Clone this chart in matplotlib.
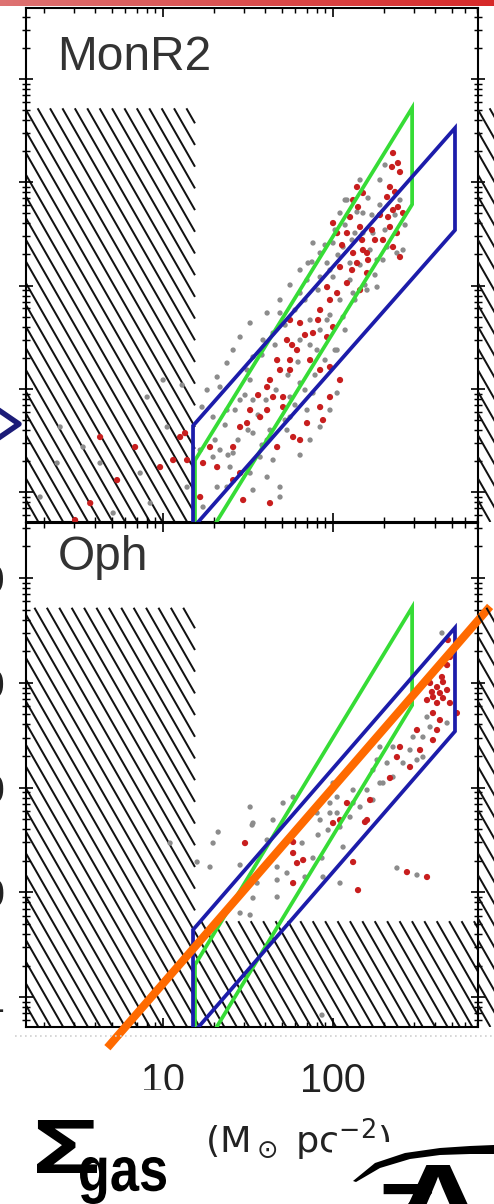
import numpy as np
import matplotlib
matplotlib.use("Agg")
import matplotlib.pyplot as plt
from matplotlib.collections import LineCollection
from matplotlib.patches import Rectangle, Polygon, PathPatch
from matplotlib.lines import Line2D
from matplotlib.ticker import LogLocator, NullFormatter
from matplotlib.textpath import TextPath
from matplotlib.font_manager import FontProperties
from matplotlib.transforms import Affine2D

plt.rcParams['font.family'] = ['Liberation Sans', 'DejaVu Sans']
plt.rcParams['mathtext.fontset'] = 'dejavusans'

DPI = 150
W, H = 494, 1204

# ---- axis ranges -------------------------------------------------------
gas_lim = (1.56, 713.0)                 # Sigma_gas (Msun pc^-2)
yso_lim_monr2 = (0.513, 48700.0)        # Sigma_YSO (pc^-2)
yso_lim_oph = (0.518, 33500.0)
gas_ticks = [10, 100]
gas_ticklabels = ["10", "100"]
yso_ticks = [1, 10, 100, 1000, 10000]
yso_ticklabels = ["1", "10", "100", "1000", "10000"]

# ---- completeness limits (hatched) ------------------------------------
gas_complete = 15.4
yso_complete_top = 5200.0
oph_yso_floor = 5.3

# ---- power-law fits: index, gas range, upper/lower Sigma_YSO at max gas
monr2_fit = dict(index=2.67, gas=(15.4, 292.0), upper=5240.0, lower=610.0)
oph_fit = dict(index=1.87, gas=(15.0, 522.0), upper=3350.0, lower=344.0)

# ---- trend line overlaid on the Oph panel ------------------------------
trend_gas = np.array([4.7, 840.0])
trend_norm, trend_index = 100.0, 1.87

# ---- YSO points: log10 Sigma_gas, log10 Sigma_YSO ----------------------
monr2_red_lg = [2.353, 2.347, 2.382, 2.394, 2.335, 2.365, 2.318, 2.382, 2.353, 2.324, 2.412,
                2.141, 2.176, 2.118, 2.147, 2.100, 2.159, 2.000, 2.024, 2.082, 2.176, 2.200,
                2.118, 2.041, 2.141, 2.200, 2.082, 1.965, 2.024, 2.159, 2.335, 2.376, 2.353,
                2.294, 2.394,
                1.747, 1.806, 1.924, 1.882, 1.965, 2.000, 1.729, 1.788, 1.747, 1.671, 1.612,
                1.647, 1.612, 1.706, 1.571, 1.494, 1.706, 1.747, 1.865, 1.924, 1.982, 2.041,
                1.982, 1.924, 1.941, 1.847, 1.806, 1.765, 1.671, 1.453, 1.412, 1.453, 1.318,
                1.235, 1.412, 1.218, 1.471, 1.629, 1.276,
                0.629, 0.835, 0.729, 0.571, 0.482, 0.982, 1.100, 1.059, 1.141, 1.129,
                2.247, 2.206, 2.112, 2.053, 1.982, 1.912, 1.835, 1.759, 1.688, 1.629, 1.559,
                1.512, 2.276, 2.229, 2.171]
monr2_red_ly = [3.283, 3.148, 3.186, 3.099, 2.954, 2.906, 2.857, 2.760, 2.731, 2.663, 2.702,
                2.954, 2.896, 2.828, 2.760, 2.663, 2.567, 2.605, 2.508, 2.508, 2.344, 2.315,
                2.315, 2.179, 2.218, 2.121, 2.024, 1.985, 1.927, 1.956, 2.567, 2.508, 2.373,
                2.441, 2.276,
                1.666, 1.637, 1.763, 1.540, 1.501, 1.598, 1.472, 1.375, 1.278, 1.278, 1.017,
                0.920, 0.794, 0.823, 0.726, 0.668, 0.920, 1.182, 1.278, 1.182, 1.211, 1.085,
                0.920, 0.823, 0.697, 0.668, 0.504, 0.533, 0.436, 0.630, 0.436, 0.184, 0.242,
                0.281, 0.116, -0.048, -0.077, -0.107, 0.436,
                0.533, 0.436, 0.116, -0.107, -0.271, 0.242, 0.533, 0.310, 0.310, 0.571,
                2.441, 2.247, 2.150, 2.392, 1.860, 1.666, 1.521, 1.424, 1.182, 1.085, 0.939,
                0.794, 2.683, 2.538, 2.441]
monr2_gray_lg = [2.159, 2.082, 2.176, 2.041, 2.129, 2.000, 1.882, 1.924, 1.853, 1.965, 2.059,
                 2.100, 2.176, 2.235, 2.259, 2.294, 2.200, 2.259, 2.118, 2.000, 1.924, 1.847,
                 1.806, 2.318, 2.376, 2.394, 2.412,
                 1.612, 1.688, 1.512, 1.453, 1.412, 1.376, 1.318, 1.259, 1.229, 1.335, 1.494,
                 1.529, 1.588, 1.647, 1.806, 1.865, 1.965, 2.059, 2.024, 1.906, 1.806, 1.882,
                 1.747, 1.529, 1.453, 1.376, 1.294, 1.529, 1.612, 1.729, 1.647, 1.571, 1.412,
                 1.335, 1.294, 1.218, 1.394, 1.512, 1.612, 1.688, 1.529, 1.376, 1.318, 1.235,
                 1.688, 1.924, 1.982, 2.024, 1.847, 1.747,
                 0.906, 1.000, 1.112, 0.376, 0.276, 0.865, 0.629, 1.024, 0.924, 0.394, 1.141,
                 0.706, 0.529,
                 2.071, 2.112, 2.029, 1.982, 1.912, 1.835, 1.776, 1.718, 1.659, 1.582, 1.512,
                 1.482, 1.424, 1.365, 1.306, 2.229, 2.276, 2.306, 2.218, 2.159, 2.100, 2.041,
                 1.982, 1.924, 1.865, 1.794, 1.735, 1.665, 1.606, 1.559, 1.500, 1.441, 1.382,
                 2.365, 2.424, 2.247, 2.188, 2.129, 2.071, 2.012, 1.953, 1.894, 1.835, 1.776,
                 1.718, 1.629, 1.582, 1.806, 1.747, 1.688, 1.953, 1.876, 2.141, 2.206, 2.276,
                 2.306, 1.806, 1.865, 2.071, 2.012]
monr2_gray_ly = [3.022, 2.828, 2.702, 2.702, 2.508, 2.412, 2.412, 2.315, 2.218, 2.218, 2.373,
                 2.218, 2.508, 2.508, 2.247, 2.247, 1.956, 1.985, 1.927, 2.082, 2.082, 2.053,
                 1.927, 2.373, 2.315, 2.828, 2.344,
                 1.734, 1.734, 1.637, 1.501, 1.375, 1.249, 1.114, 0.988, 0.823, 1.017, 1.182,
                 1.308, 1.472, 1.540, 1.472, 1.666, 1.666, 1.695, 1.375, 1.375, 1.056, 0.959,
                 0.920, 0.891, 0.891, 0.794, 0.726, 0.571, 0.504, 0.600, 0.310, 0.339, 0.378,
                 0.407, 0.339, 0.407, 0.242, 0.184, 0.145, 0.048, 0.019, 0.048, 0.048, -0.145,
                 -0.048, 0.630, 0.794, 0.959, 0.794, 0.726,
                 0.920, 1.085, 1.036, 0.281, -0.048, 0.184, 0.281, 0.630, -0.107, 0.630, 0.048,
                 -0.203, 0.436,
                 2.586, 2.441, 2.295, 2.150, 1.956, 1.860, 1.763, 1.617, 1.424, 1.327, 1.085,
                 0.939, 0.794, 0.649, 0.504, 2.683, 2.780, 2.538, 2.344, 2.199, 2.053, 1.860,
                 1.714, 1.569, 1.424, 1.259, 1.133, 0.988, 0.891, 0.746, 0.600, 0.504, 0.358,
                 2.683, 2.586, 2.102, 2.005, 1.860, 1.569, 1.375, 1.278, 1.133, 0.988, 0.843,
                 0.697, 0.600, 0.455, 2.150, 2.005, 1.860, 2.392, 2.228, 2.712, 2.847, 3.022,
                 3.167, 0.358, 0.504, 2.828, 2.538]

oph_red_lg = [2.571, 2.612, 2.647, 2.629, 2.588, 2.671, 2.553, 2.688, 2.612, 2.647, 2.582,
              2.641, 2.671, 2.688, 2.676, 2.729, 2.588, 2.629, 2.612, 2.494, 2.588, 2.394,
              2.376, 2.453, 2.335, 2.200, 2.218, 2.082, 1.482, 1.765, 1.765, 1.765, 1.824,
              1.788, 2.000, 2.188, 2.118, 2.147, 2.435, 2.553, 2.512, 2.041]
oph_red_ly = [2.998, 2.959, 3.007, 2.902, 2.864, 2.931, 2.835, 2.807, 2.807, 2.854, 2.912,
              3.055, 3.169, 3.246, 3.408, 2.711, 2.711, 2.644, 2.549, 2.549, 2.453, 2.387,
              2.291, 2.196, 2.091, 1.690, 1.881, 1.852, 1.470, 1.088, 1.480, 1.375, 1.308,
              1.279, 1.661, 1.671, 1.289, 1.021, 1.193, 1.146, 2.358, 1.690]
oph_gray_lg = [2.641, 2.553, 2.671, 2.571, 2.471, 2.529, 2.453, 2.412, 2.494, 2.529, 2.318,
               2.276, 2.353, 2.294, 2.276, 2.235, 2.259, 2.200, 2.118, 2.159, 2.024, 1.982,
               2.100, 1.924, 2.000, 2.041, 1.765, 1.706, 1.512, 1.529, 2.353, 1.524, 1.324,
               1.294, 1.041, 1.200, 1.276, 1.453, 1.553, 1.671, 1.529, 1.671, 1.453, 1.512,
               1.612, 1.818, 1.912, 1.882, 2.024, 2.118, 2.041, 1.935, 1.941, 1.729, 2.059,
               2.235, 1.971, 1.671, 1.835, 1.647, 1.982, 1.906, 1.935, 2.376, 2.494]
oph_gray_ly = [3.475, 2.673, 2.616, 2.578, 2.482, 2.482, 2.358, 2.234, 2.263, 2.291, 2.234,
               2.387, 2.100, 2.043, 2.043, 2.167, 2.263, 1.976, 1.976, 1.814, 1.909, 1.757,
               1.718, 1.690, 2.043, 1.623, 1.909, 1.852, 1.814, 1.661, 2.387, 1.642, 1.575,
               1.470, 1.470, 1.289, 1.241, 1.260, 1.088, 1.117, 0.945, 0.955, 0.802, 0.783,
               1.499, 1.470, 1.547, 1.327, 1.757, 1.852, 1.088, 1.327, 1.146, 1.184, 1.432,
               1.881, 1.594, 1.241, 1.146, 1.690, 1.852, 1.757, -0.172, 1.232, 1.165]


def fpx(x, y):
    """figure pixel (from top-left) -> figure fraction"""
    return x / W, 1 - y / H


def px_rect(x0, y0, x1, y1):
    return [x0 / W, 1 - y1 / H, (x1 - x0) / W, (y1 - y0) / H]


fig = plt.figure(figsize=(W / DPI, H / DPI), dpi=DPI)
fig.patch.set_facecolor("white")

AX_L, AX_R = 26, 478
PW = AX_R - AX_L
ax_top = fig.add_axes(px_rect(AX_L, 8, AX_R, 522))
ax_bot = fig.add_axes(px_rect(AX_L, 523, AX_R, 1027))
nb_top = fig.add_axes(px_rect(AX_R, 8, AX_R + PW, 522))
nb_bot = fig.add_axes(px_rect(AX_R, 523, AX_R + PW, 1027))

HATCH_SPACING = 12.4   # px along x
HATCH_SLOPE = 1.75     # dy/dx in pixels


def to_frac(ax, x, y):
    return (ax.transScale + ax.transLimits).transform((x, y))


def hatch(ax, ph, x0, x1, y0, y1):
    a0, b0 = to_frac(ax, x0, y0)
    a1, b1 = to_frac(ax, x1, y1)
    du = ph / HATCH_SLOPE / PW          # x-shift (axes frac) over full height
    step = HATCH_SPACING / PW
    segs = []
    for u in np.arange(-du - step, 1 + step, step):
        # line: x = u + du * (1 - y)
        ylo = max(b0, 1 - (a1 - u) / du)
        yhi = min(b1, 1 - (a0 - u) / du)
        if yhi > ylo:
            segs.append([(u + du * (1 - yhi), yhi), (u + du * (1 - ylo), ylo)])
    ax.add_collection(LineCollection(segs, colors="#111111", linewidths=0.95,
                                     transform=ax.transAxes, zorder=1))


def fit_polygon(ax, fit, color):
    x1, x2 = fit["gas"]
    f = (x1 / x2) ** fit["index"]
    verts = [(x1, fit["upper"] * f), (x2, fit["upper"]),
             (x2, fit["lower"]), (x1, fit["lower"] * f)]
    ax.add_patch(Polygon(verts, closed=True, fill=False, edgecolor=color,
                         lw=1.8, zorder=4, joinstyle="miter"))


def setup_log(ax, ylim):
    ax.set_xscale("log")
    ax.set_yscale("log")
    ax.set_xlim(*gas_lim)
    ax.set_ylim(*ylim)


for ax, ylim, ph in ((ax_top, yso_lim_monr2, 514), (ax_bot, yso_lim_oph, 504)):
    setup_log(ax, ylim)
    for s in ax.spines.values():
        s.set_linewidth(1.0)
    ax.xaxis.set_major_locator(LogLocator(base=10, numticks=20))
    ax.xaxis.set_minor_locator(LogLocator(base=10, subs=np.arange(2, 10), numticks=50))
    ax.yaxis.set_major_locator(LogLocator(base=10, numticks=20))
    ax.yaxis.set_minor_locator(LogLocator(base=10, subs=np.arange(2, 10), numticks=50))
    ax.xaxis.set_minor_formatter(NullFormatter())
    ax.yaxis.set_minor_formatter(NullFormatter())
    ax.tick_params(axis="x", which="major", direction="in", length=4.3, width=0.8,
                   top=True, bottom=True)
    ax.tick_params(axis="x", which="minor", direction="in", length=2.5, width=0.7,
                   top=True, bottom=True)
    ax.tick_params(axis="y", which="major", direction="inout", length=6.5, width=0.8,
                   left=True, right=True)
    ax.tick_params(axis="y", which="minor", direction="inout", length=3.8, width=0.7,
                   left=True, right=True)
    hatch(ax, ph, gas_lim[0], gas_complete, ylim[0], yso_complete_top)
    fit_polygon(ax, monr2_fit, "#36dc36")
    fit_polygon(ax, oph_fit, "#1c1caa")

hatch(ax_bot, 504, gas_complete, gas_lim[1], yso_lim_oph[0], oph_yso_floor)

ax_top.tick_params(labelbottom=False, labelleft=False)
ax_bot.set_xticks(gas_ticks, labels=gas_ticklabels)
ax_bot.set_yticks(yso_ticks, labels=yso_ticklabels)
ax_bot.xaxis.set_minor_formatter(NullFormatter())
ax_bot.yaxis.set_minor_formatter(NullFormatter())
ax_bot.tick_params(axis="x", which="major", labelsize=19, pad=17, labelcolor="#222222")
ax_bot.tick_params(axis="y", which="major", labelsize=19, pad=7, labelcolor="#222222")

# neighbouring panels on the right (only their hatched edge shows)
for nb, ylim, ph in ((nb_top, yso_lim_monr2, 514), (nb_bot, yso_lim_oph, 504)):
    setup_log(nb, ylim)
    nb.axis("off")
    hatch(nb, ph, gas_lim[0], gas_complete, ylim[0], yso_complete_top)

# YSO points
for ax, g_lg, g_ly, r_lg, r_ly in ((ax_top, monr2_gray_lg, monr2_gray_ly, monr2_red_lg, monr2_red_ly),
                                   (ax_bot, oph_gray_lg, oph_gray_ly, oph_red_lg, oph_red_ly)):
    ax.scatter(10 ** np.array(g_lg), 10 ** np.array(g_ly), s=6.5, c="#8c8c8c",
               edgecolors="none", zorder=3)
    ax.scatter(10 ** np.array(r_lg), 10 ** np.array(r_ly), s=9, c="#c81e1e",
               edgecolors="none", zorder=3)

# panel names
fig.text(*fpx(57, 70), "MonR2", fontsize=23, color="#333333", va="baseline")
fig.text(*fpx(58, 570), "Oph", fontsize=23, color="#333333", va="baseline")

# trend line
tg = trend_gas
ax_bot.plot(tg, trend_norm * (tg / 100.0) ** trend_index, color="#ff6a00",
            lw=3.9, solid_capstyle="butt", clip_on=False, zorder=10)

# slide decorations
bar = fig.add_axes(px_rect(0, 0, W, 6))
grad = np.linspace(0, 1, 256)[None, :, None]
c0 = np.array([0.87, 0.45, 0.45])
c1 = np.array([0.84, 0.16, 0.16])
bar.imshow(c0 + (c1 - c0) * grad, aspect="auto", extent=(0, 1, 0, 1))
bar.axis("off")

fig.add_artist(Line2D([0 / W, 19 / W, 0 / W], [1 - 411 / H, 1 - 424 / H, 1 - 437 / H],
                      color="#1c1c78", lw=2.6, transform=fig.transFigure))
fig.add_artist(Line2D([15 / W, 1], [1 - 1036 / H] * 2, color="#cfcfcf", lw=0.8,
                      ls=(0, (1, 2)), transform=fig.transFigure))

fig.text(*fpx(298, 1152), r"(M$_\odot$ pc$^{-2}$)", fontsize=17.5, color="#222222",
         family="DejaVu Sans", ha="center", va="baseline")


def fit_text(s, box, weight="bold", family="Liberation Sans", zorder=22):
    """draw text outlines filling the ink box (x0, y0, x1, y1) in pixels"""
    x0, y0, x1, y1 = box
    tp = TextPath((0, 0), s, size=100, prop=FontProperties(family=family, weight=weight))
    ext = tp.get_extents()
    tr = (Affine2D().translate(-ext.x0, -ext.y0)
          .scale((x1 - x0) / ext.width / W, (y1 - y0) / ext.height / H)
          .translate(x0 / W, 1 - y1 / H))
    fig.add_artist(PathPatch(tr.transform_path(tp), transform=fig.transFigure,
                             facecolor="black", edgecolor="none", zorder=zorder))


fig.add_artist(Rectangle(fpx(0, 1204), 190 / W, 114 / H, transform=fig.transFigure,
                         facecolor="white", edgecolor="none", zorder=20))
fit_text("\u03a3", (37, 1120, 97, 1173))
fit_text("gas", (80, 1157, 166, 1204))

fig.add_artist(Rectangle(fpx(332, 1204), (W - 332) / W, 62 / H, transform=fig.transFigure,
                         facecolor="white", edgecolor="none", zorder=20))
top_c = [(353, 1181), (375, 1163), (405, 1153), (440, 1148), (470, 1146), (494, 1145)]
bot_c = [(494, 1154), (470, 1154), (440, 1155), (410, 1159), (380, 1168), (356, 1182)]
fig.add_artist(Polygon([fpx(*p) for p in top_c + bot_c], closed=True,
                       facecolor="black", edgecolor="none", transform=fig.transFigure,
                       zorder=21))
fit_text("Z", (380, 1184, 434, 1246))
fit_text("A", (392, 1165, 484, 1240))

fig.savefig("out.png", dpi=DPI)
